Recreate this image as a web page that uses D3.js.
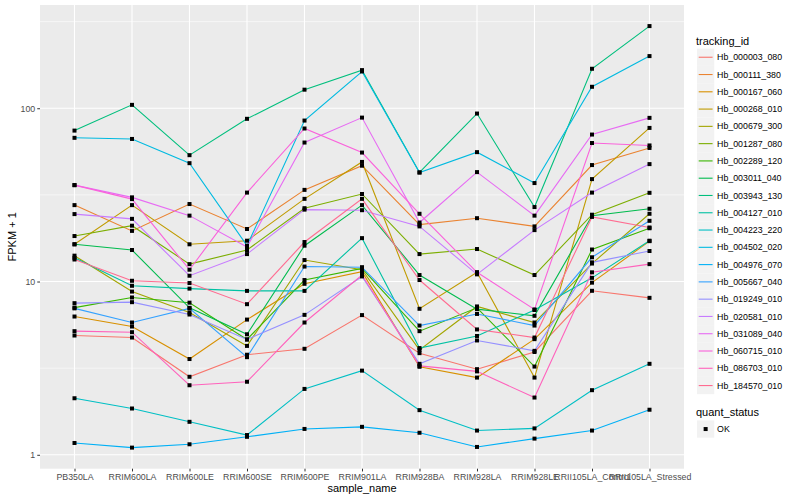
<!DOCTYPE html>
<html>
<head>
<meta charset="utf-8">
<script src="https://cdn.jsdelivr.net/npm/d3@7/dist/d3.min.js"></script>
<style>
  body { margin: 0; background: #fff; }
  text { font-family: "Liberation Sans", Arial, Helvetica, sans-serif; }
</style>
</head>
<body>
<div id="viz"></div>
<script>
// x categories
var samples = ["PB350LA", "RRIM600LA", "RRIM600LE", "RRIM600SE", "RRIM600PE", "RRIM901LA",
  "RRIM928BA", "RRIM928LA", "RRIM928LE", "RRII105LA_Control", "RRII105LA_Stressed"]

// FPKM + 1 per gene, one value per sample
var hb000003_080 = [4.88, 4.75, 2.82, 3.78, 4.09, 6.4, 3.86, 3.12, 3.92, 8.84, 8.05]
var hb000111_380 = [27.6, 19.6, 28, 20.1, 33.8, 46.6, 21.3, 23.2, 20.8, 47, 59]
var hb000167_060 = [6.28, 5.5, 3.57, 6.03, 9.7, 11.4, 3.22, 2.79, 4.65, 9.85, 17.1]
var hb000268_010 = [16.4, 27.6, 16.4, 17.2, 30, 49, 6.96, 11.3, 2.79, 39, 77]
var hb000679_300 = [14.1, 8.75, 6.63, 4.25, 13.3, 11.7, 4.03, 7.18, 5.8, 12.7, 24.6]
var hb001287_080 = [18.3, 21, 12.6, 15.2, 26.5, 32, 14.4, 15.4, 10.9, 24.3, 32.5]
var hb002289_120 = [7.07, 8.09, 7.55, 4.63, 10.2, 11.9, 5.17, 7.05, 3.23, 15.3, 20.3]
var hb003011_040 = [16.4, 15.2, 7.05, 4.96, 16.1, 27.6, 10.9, 6.93, 6.34, 24, 26.3]
var hb003943_130 = [74.3, 104.6, 53.6, 86.9, 128, 166, 42.6, 93.2, 26.9, 169, 298]
var hb004127_010 = [13.7, 9.45, 9.1, 8.83, 8.83, 17.8, 4.13, 4.85, 6.85, 10.5, 17.2]
var hb004223_220 = [2.12, 1.85, 1.55, 1.3, 2.4, 3.06, 1.81, 1.38, 1.42, 2.36, 3.35]
var hb004502_020 = [67.5, 66.5, 48.2, 16.1, 84.9, 163, 42.6, 55.8, 37, 133, 200]
var hb004976_070 = [1.17, 1.1, 1.15, 1.27, 1.41, 1.45, 1.34, 1.11, 1.24, 1.38, 1.82]
var hb005667_040 = [7.0, 5.8, 7.0, 3.66, 12.2, 12.1, 5.57, 6.5, 5.57, 13.8, 22.4]
var hb019249_010 = [7.5, 7.6, 6.45, 4.63, 6.42, 10.7, 3.35, 4.57, 3.98, 12.9, 15]
var hb020581_010 = [24.5, 23, 10.8, 14.4, 26, 25.8, 20.8, 11.0, 19.8, 32.6, 47.6]
var hb031089_040 = [36, 30.6, 24, 15.8, 63.4, 88.3, 21.9, 42.8, 24, 70.5, 88]
var hb060715_010 = [36, 29.9, 11.7, 32.6, 76.4, 55.5, 24.6, 11.3, 6.9, 63, 61]
var hb086703_010 = [5.17, 5.1, 2.52, 2.64, 5.8, 10.9, 3.26, 3.03, 2.14, 11.3, 12.6]
var hb184570_010 = [13.4, 10.1, 9.8, 7.4, 16.9, 30, 10.2, 5.29, 4.75, 23.6, 20.5]

var trackingIds = ["Hb_000003_080", "Hb_000111_380", "Hb_000167_060", "Hb_000268_010", "Hb_000679_300",
  "Hb_001287_080", "Hb_002289_120", "Hb_003011_040", "Hb_003943_130", "Hb_004127_010",
  "Hb_004223_220", "Hb_004502_020", "Hb_004976_070", "Hb_005667_040", "Hb_019249_010",
  "Hb_020581_010", "Hb_031089_040", "Hb_060715_010", "Hb_086703_010", "Hb_184570_010"]

var seriesValues = [hb000003_080, hb000111_380, hb000167_060, hb000268_010, hb000679_300,
  hb001287_080, hb002289_120, hb003011_040, hb003943_130, hb004127_010,
  hb004223_220, hb004502_020, hb004976_070, hb005667_040, hb019249_010,
  hb020581_010, hb031089_040, hb060715_010, hb086703_010, hb184570_010]

var yTicks = [1, 10, 100]
var yMinor = [Math.sqrt(10), Math.sqrt(1000), Math.sqrt(100000)]
var quantStatus = ["OK"]

// ggplot hue palette for 20 groups
var colors = ["#F8766D", "#EA8331", "#D89000", "#C09B00", "#A3A500", "#7CAE00", "#39B600", "#00BB4E",
  "#00BF7D", "#00C1A3", "#00BFC4", "#00BAE0", "#00B0F6", "#35A2FF", "#9590FF", "#C77CFF",
  "#E76BF3", "#FA62DB", "#FF62BC", "#FF6C91"]

var data = trackingIds.map((id, i) => ({
  id: id,
  values: samples.map((s, j) => ({ sample: s, fpkm: seriesValues[i][j] }))
}))

var svg = d3.select('#viz').append('svg')
  .attr('width', 800)
  .attr('height', 500)

var panel = { left: 40, right: 684, top: 5, bottom: 468.7 }

var xScale = d3.scalePoint()
  .domain(samples)
  .range([panel.left, panel.right])
  .padding(0.6)

// log scale with ggplot's 5% expansion
var all = d3.merge(seriesValues)
var lo = Math.log10(d3.min(all)), hi = Math.log10(d3.max(all))
var pad = (hi - lo) * 0.05
var yScale = d3.scaleLog()
  .domain([Math.pow(10, lo - pad), Math.pow(10, hi + pad)])
  .range([panel.bottom, panel.top])

// panel background
svg.append('rect')
  .attr('x', panel.left)
  .attr('y', panel.top)
  .attr('width', panel.right - panel.left)
  .attr('height', panel.bottom - panel.top)
  .attr('fill', '#EBEBEB')

// grid lines
svg.append('g').selectAll('line')
  .data(yMinor)
  .enter().append('line')
  .attr('x1', panel.left).attr('x2', panel.right)
  .attr('y1', d => yScale(d)).attr('y2', d => yScale(d))
  .attr('stroke', '#fff').attr('stroke-width', 0.55)

svg.append('g').selectAll('line')
  .data(yTicks)
  .enter().append('line')
  .attr('x1', panel.left).attr('x2', panel.right)
  .attr('y1', d => yScale(d)).attr('y2', d => yScale(d))
  .attr('stroke', '#fff').attr('stroke-width', 1.1)

svg.append('g').selectAll('line')
  .data(samples)
  .enter().append('line')
  .attr('x1', d => xScale(d)).attr('x2', d => xScale(d))
  .attr('y1', panel.top).attr('y2', panel.bottom)
  .attr('stroke', '#fff').attr('stroke-width', 1.1)

// lines
var line = d3.line()
  .x(d => xScale(d.sample))
  .y(d => yScale(d.fpkm))

svg.append('g').selectAll('path')
  .data(data)
  .enter().append('path')
  .attr('d', d => line(d.values))
  .attr('fill', 'none')
  .attr('stroke', (d, i) => colors[i])
  .attr('stroke-width', 1.1)

// points
svg.append('g').selectAll('g')
  .data(data)
  .enter().append('g')
  .selectAll('rect')
  .data(d => d.values)
  .enter().append('rect')
  .attr('x', d => xScale(d.sample) - 2)
  .attr('y', d => yScale(d.fpkm) - 2)
  .attr('width', 4)
  .attr('height', 4)
  .attr('fill', '#000')

// axes
var xAxis = svg.append('g')
  .attr('transform', `translate(0, ${panel.bottom})`)
  .call(d3.axisBottom(xScale).tickSize(2.75).tickPadding(2))
var yAxis = svg.append('g')
  .attr('transform', `translate(${panel.left}, 0)`)
  .call(d3.axisLeft(yScale).tickValues(yTicks).tickFormat(d3.format('d')).tickSize(2.75).tickPadding(2))

;[xAxis, yAxis].forEach(ax => {
  ax.select('.domain').remove()
  ax.selectAll('.tick line').attr('stroke', '#333')
  ax.selectAll('.tick text')
    .attr('fill', '#4D4D4D')
    .style('font-size', '8.8px')
})

svg.append('text')
  .attr('x', (panel.left + panel.right) / 2)
  .attr('y', 492)
  .attr('text-anchor', 'middle')
  .style('font-size', '11px')
  .text('sample_name')

svg.append('text')
  .attr('transform', `translate(16, ${(panel.top + panel.bottom) / 2}) rotate(-90)`)
  .attr('text-anchor', 'middle')
  .style('font-size', '11px')
  .text('FPKM + 1')

// legend: tracking_id
var keySize = 17.28
var legend = svg.append('g').attr('transform', 'translate(697, 48.6)')

svg.append('text')
  .attr('x', 696)
  .attr('y', 44.5)
  .style('font-size', '11px')
  .text('tracking_id')

var keys = legend.selectAll('g')
  .data(trackingIds)
  .enter().append('g')
  .attr('transform', (d, i) => `translate(0, ${i * keySize})`)

keys.append('rect')
  .attr('width', keySize)
  .attr('height', keySize)
  .attr('fill', '#F2F2F2')

keys.append('line')
  .attr('x1', 1.7).attr('x2', keySize - 1.7)
  .attr('y1', keySize / 2).attr('y2', keySize / 2)
  .attr('stroke', (d, i) => colors[i])
  .attr('stroke-width', 1.1)

keys.append('text')
  .attr('x', keySize + 2.8)
  .attr('y', keySize / 2 + 3.1)
  .style('font-size', '8.8px')
  .text(d => d)

// legend: quant_status
svg.append('text')
  .attr('x', 696)
  .attr('y', 416.3)
  .style('font-size', '11px')
  .text('quant_status')

var qKeys = svg.append('g').attr('transform', 'translate(697, 420.4)')
  .selectAll('g')
  .data(quantStatus)
  .enter().append('g')

qKeys.append('rect')
  .attr('width', keySize)
  .attr('height', keySize)
  .attr('fill', '#F2F2F2')

qKeys.append('rect')
  .attr('x', keySize / 2 - 2)
  .attr('y', keySize / 2 - 2)
  .attr('width', 4)
  .attr('height', 4)
  .attr('fill', '#000')

qKeys.append('text')
  .attr('x', keySize + 2.8)
  .attr('y', keySize / 2 + 3.1)
  .style('font-size', '8.8px')
  .text(d => d)
</script>
</body>
</html>
